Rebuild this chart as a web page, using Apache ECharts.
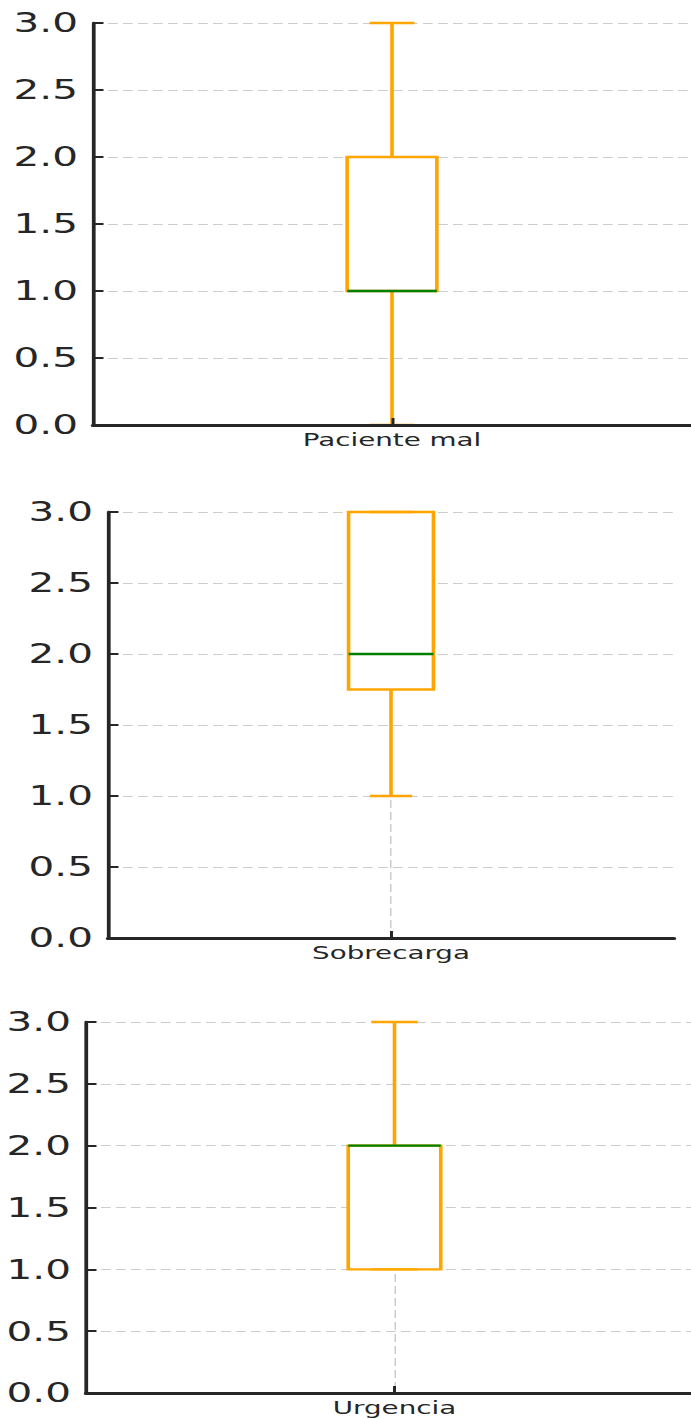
<!DOCTYPE html>
<html>
<head>
<meta charset="utf-8">
<script src="https://cdn.jsdelivr.net/npm/echarts@6/dist/echarts.min.js"></script>
<style>
  html, body { margin: 0; padding: 0; background: #fff; overflow: hidden; width: 691px; height: 1418px; }
  #chart { width: 472px; height: 1418px; transform: scaleX(1.5); transform-origin: 0 0; }
</style>
</head>
<body>
<div id="chart"></div>
<script>
// ---- data ----
const categories = ['Paciente mal', 'Sobrecarga', 'Urgencia'];
const whiskerLow = [0, 1, 1];
const quartile1 = [1, 1.75, 1];
const medians = [1, 2, 2];
const quartile3 = [2, 3, 2];
const whiskerHigh = [3, 3, 3];
const yMin = 0, yMax = 3, yStep = 0.5;

// ---- layout (unscaled px; page is stretched 1.5x horizontally) ----
const grids = [
  { left: 62, width: 398.67, top: 23, height: 402 },
  { left: 72, width: 377.33, top: 512, height: 426 },
  { left: 57.33, width: 411.33, top: 1022, height: 371 }
];

const ORANGE = '#FFA500';
const GREEN = '#008000';
const AXIS = '#262626';
const GRIDC = '#cccccc';
const FONT = 'DejaVu Sans';

function renderItem(params, api) {
  const x = api.value(0);
  const lo = api.coord([x, api.value(1)]);
  const q1 = api.coord([x, api.value(2)]);
  const md = api.coord([x, api.value(3)]);
  const q3 = api.coord([x, api.value(4)]);
  const hi = api.coord([x, api.value(5)]);
  const band = api.size([1, 0])[0];
  const half = band * 0.15 / 2;
  const capHalf = half / 2;
  const cx = md[0];
  const lw = 2.4;
  const ln = (x1, y1, x2, y2, c) => ({
    type: 'line', shape: { x1, y1, x2, y2 },
    style: { stroke: c, lineWidth: lw, lineCap: 'butt' }
  });
  return {
    type: 'group',
    children: [
      ln(cx, q3[1], cx, hi[1], ORANGE),
      ln(cx, q1[1], cx, lo[1], ORANGE),
      {
        type: 'rect',
        shape: { x: cx - half, y: q3[1], width: 2 * half, height: q1[1] - q3[1] },
        style: { fill: '#ffffff', stroke: ORANGE, lineWidth: lw }
      },
      ln(cx - capHalf, hi[1], cx + capHalf, hi[1], ORANGE),
      ln(cx - capHalf, lo[1], cx + capHalf, lo[1], ORANGE),
      ln(cx - half, md[1], cx + half, md[1], GREEN)
    ]
  };
}

const option = {
  animation: false,
  grid: grids.map(g => Object.assign({ containLabel: false }, g)),
  xAxis: [],
  yAxis: [],
  series: []
};

categories.forEach((cat, i) => {
  option.xAxis.push({
    type: 'category', gridIndex: i, data: [cat], z: 5,
    boundaryGap: true,
    axisLine: { show: true, lineStyle: { color: AXIS, width: 3 } },
    axisTick: { show: true, inside: true, alignWithLabel: true, length: 7, lineStyle: { color: AXIS, width: 2 } },
    axisLabel: { fontFamily: FONT, fontSize: 18.5, color: AXIS, margin: 5 },
    splitLine: { show: false }
  });
  option.xAxis.push({
    type: 'value', gridIndex: i, min: 0, max: 2, interval: 1, position: 'top',
    axisLine: { show: false }, axisTick: { show: false }, axisLabel: { show: false },
    splitLine: { show: true, showMinLine: false, showMaxLine: false,
      lineStyle: { color: GRIDC, width: 1, type: [8, 4] } }
  });
  option.yAxis.push({
    type: 'value', gridIndex: i, min: yMin, max: yMax, interval: yStep,
    axisLine: { show: true, lineStyle: { color: AXIS, width: 2.5 } },
    axisTick: { show: true, inside: true, length: 7, lineStyle: { color: AXIS, width: 2 } },
    axisLabel: { fontFamily: FONT, fontSize: 27, color: AXIS, margin: 10,
      formatter: v => v.toFixed(1) },
    splitLine: { show: true, lineStyle: { color: GRIDC, width: 1.1, type: [6.5, 3.5] } }
  });
  option.series.push({
    type: 'custom',
    coordinateSystem: 'cartesian2d',
    xAxisIndex: i * 2,
    yAxisIndex: i,
    z: 2,
    renderItem: renderItem,
    encode: { x: 0, y: [1, 2, 3, 4, 5] },
    data: [[0, whiskerLow[i], quartile1[i], medians[i], quartile3[i], whiskerHigh[i]]],
    clip: false
  });
});

const chart = echarts.init(document.getElementById('chart'), null, { renderer: 'svg' });
chart.setOption(option);
</script>
</body>
</html>
